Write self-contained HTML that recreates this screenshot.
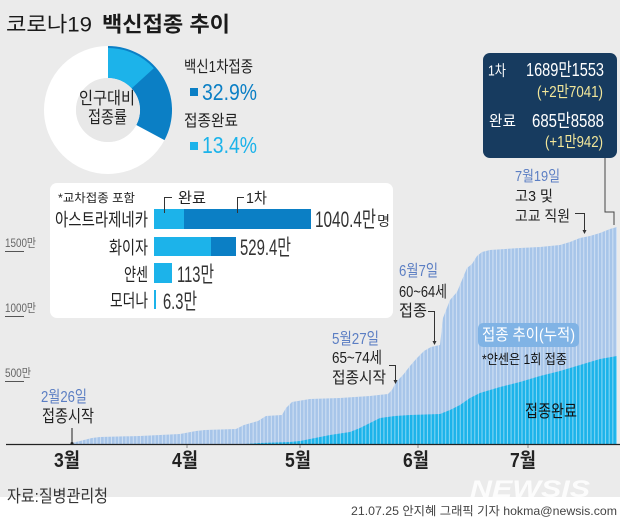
<!DOCTYPE html>
<html><head><meta charset="utf-8"><style>
html,body{margin:0;padding:0;background:#fff;}
svg{display:block;}
text{font-family:"Liberation Sans","Noto Sans CJK KR",sans-serif;}
</style></head><body>
<svg width="620" height="519" viewBox="0 0 620 519" xmlns="http://www.w3.org/2000/svg">
<defs>
<pattern id="gap" x="72" y="0" width="3.633" height="20" patternUnits="userSpaceOnUse">
<rect x="2.65" y="0" width="0.95" height="20" fill="#ffffff" fill-opacity="0.5"/>
</pattern>
<clipPath id="c1"><polygon points="72,444 72,443 76,442 84,440 92,438 100,437 140,436 180,434 196,431 205,430 236,429 244,425 258,421 266,416 282,415 286,408 292,402 310,399 340,398 370,396 388,394 392,390 396,382 403,375 410,366 417,358 424,351 431,347 440,345 443,318 450,300 457,292 462,280 467,268 472,264 477,256 482,252 490,250 520,248 540,247 560,245 570,242 580,238 590,236 600,233 610,229 617,227 617,444"/></clipPath>
</defs>
<rect x="0" y="0" width="620" height="497" fill="#ebebeb"/>
<rect x="0" y="497" width="620" height="22" fill="#ffffff"/>

<!-- Title -->
<text x="6" y="31.5" font-size="21" fill="#1a1a1a" textLength="86" lengthAdjust="spacingAndGlyphs">코로나19</text>
<text x="102" y="31.5" font-size="21" font-weight="bold" fill="#1a1a1a" textLength="128" lengthAdjust="spacingAndGlyphs">백신접종 추이</text>

<!-- Donut -->
<circle cx="108" cy="110" r="48" fill="none" stroke="#ffffff" stroke-width="32"/>
<path d="M108,46 A64,64 0 0,1 164.5,140.1 L136.3,125.0 A32,32 0 0,0 108,78 Z" fill="#0b7fc5"/>
<path d="M108,48 A62,62 0 0,1 153.8,68.2 L131.7,88.4 A32,32 0 0,0 108,78 Z" fill="#1cb3ea"/>
<circle cx="108" cy="110" r="32" fill="#e8e8e8"/>
<text x="79" y="104" font-size="17" fill="#222" textLength="56" lengthAdjust="spacingAndGlyphs">인구대비</text>
<text x="88" y="123" font-size="17" fill="#222" textLength="39" lengthAdjust="spacingAndGlyphs">접종률</text>

<text x="184" y="72" font-size="16" fill="#222" textLength="69" lengthAdjust="spacingAndGlyphs">백신1차접종</text>
<rect x="190" y="88" width="8" height="8" fill="#0b7fc5"/>
<text x="202" y="100" font-size="23" fill="#0b7fc5" textLength="55" lengthAdjust="spacingAndGlyphs">32.9%</text>
<text x="184" y="126" font-size="16" fill="#222" textLength="54" lengthAdjust="spacingAndGlyphs">접종완료</text>
<rect x="190" y="142" width="8" height="8" fill="#1cb3ea"/>
<text x="202" y="153" font-size="23" fill="#1cb3ea" textLength="55" lengthAdjust="spacingAndGlyphs">13.4%</text>

<!-- Navy box -->
<rect x="483" y="53" width="134" height="105" rx="7" fill="#173b5f"/>
<text x="488" y="75.5" font-size="15" fill="#fff" textLength="18" lengthAdjust="spacingAndGlyphs">1차</text>
<text x="526" y="76" font-size="18" fill="#fff" textLength="78" lengthAdjust="spacingAndGlyphs">1689만1553</text>
<text x="537" y="97" font-size="16" fill="#f3e79a" textLength="66" lengthAdjust="spacingAndGlyphs">(+2만7041)</text>
<text x="489" y="126" font-size="15" fill="#fff" textLength="27" lengthAdjust="spacingAndGlyphs">완료</text>
<text x="532" y="127" font-size="18" fill="#fff" textLength="72" lengthAdjust="spacingAndGlyphs">685만8588</text>
<text x="545" y="147" font-size="16" fill="#f3e79a" textLength="58" lengthAdjust="spacingAndGlyphs">(+1만942)</text>
<polyline points="605,158 605,212 614,212 614,225" fill="none" stroke="#444" stroke-width="1"/>

<!-- Y axis labels -->
<text x="5" y="247" font-size="12" fill="#666" textLength="31" lengthAdjust="spacingAndGlyphs">1500만</text>
<line x1="5" y1="251.5" x2="24" y2="251.5" stroke="#555" stroke-width="1"/>
<text x="5" y="312" font-size="12" fill="#666" textLength="31" lengthAdjust="spacingAndGlyphs">1000만</text>
<line x1="5" y1="316.5" x2="24" y2="316.5" stroke="#555" stroke-width="1"/>
<text x="5" y="377" font-size="12" fill="#666" textLength="26" lengthAdjust="spacingAndGlyphs">500만</text>
<line x1="5" y1="381.5" x2="24" y2="381.5" stroke="#555" stroke-width="1"/>

<!-- Chart bars -->
<polygon points="72,444 72,443 76,442 84,440 92,438 100,437 140,436 180,434 196,431 205,430 236,429 244,425 258,421 266,416 282,415 286,408 292,402 310,399 340,398 370,396 388,394 392,390 396,382 403,375 410,366 417,358 424,351 431,347 440,345 443,318 450,300 457,292 462,280 467,268 472,264 477,256 482,252 490,250 520,248 540,247 560,245 570,242 580,238 590,236 600,233 610,229 617,227 617,444" fill="#a7c5e9"/>
<polygon points="245,444 260,443 290,442 300,441 315,438 330,435 350,432 360,428 370,423 380,418 395,416 410,415 440,414 450,410 460,405 470,398 480,393 500,387 520,382 540,376 560,371 580,365 600,359 617,356 617,444" fill="#1cb3ea"/>
<rect x="72" y="220" width="546" height="225" fill="url(#gap)" clip-path="url(#c1)"/>

<!-- axis -->
<line x1="6" y1="444.5" x2="620" y2="444.5" stroke="#222" stroke-width="1.2"/>
<line x1="187" y1="445" x2="187" y2="448" stroke="#888" stroke-width="1"/>
<line x1="300" y1="445" x2="300" y2="448" stroke="#888" stroke-width="1"/>
<line x1="418" y1="445" x2="418" y2="448" stroke="#888" stroke-width="1"/>
<line x1="528" y1="445" x2="528" y2="448" stroke="#888" stroke-width="1"/>

<!-- month labels -->
<text x="54" y="467" font-size="20" font-weight="bold" fill="#222" textLength="26" lengthAdjust="spacingAndGlyphs">3월</text>
<text x="172" y="467" font-size="20" font-weight="bold" fill="#222" textLength="26" lengthAdjust="spacingAndGlyphs">4월</text>
<text x="285" y="467" font-size="20" font-weight="bold" fill="#222" textLength="26" lengthAdjust="spacingAndGlyphs">5월</text>
<text x="403" y="467" font-size="20" font-weight="bold" fill="#222" textLength="26" lengthAdjust="spacingAndGlyphs">6월</text>
<text x="510" y="467" font-size="20" font-weight="bold" fill="#222" textLength="26" lengthAdjust="spacingAndGlyphs">7월</text>

<!-- Panel -->
<rect x="50" y="183" width="343" height="135" rx="7" fill="#ffffff"/>
<text x="58" y="202" font-size="12" fill="#222" textLength="77" lengthAdjust="spacingAndGlyphs">*교차접종 포함</text>
<text x="178" y="203" font-size="15" fill="#222" textLength="28" lengthAdjust="spacingAndGlyphs">완료</text>
<text x="246" y="203" font-size="15" fill="#222" textLength="21" lengthAdjust="spacingAndGlyphs">1차</text>

<rect x="154" y="209" width="157" height="20" fill="#0b7fc5"/>
<rect x="154" y="209" width="30" height="20" fill="#1cb3ea"/>
<polyline points="172,197.5 164.5,197.5 164.5,213" fill="none" stroke="#333" stroke-width="1"/>
<polyline points="244,197.5 237.5,197.5 237.5,213" fill="none" stroke="#333" stroke-width="1"/>
<text x="55" y="226" font-size="18" fill="#222" textLength="93" lengthAdjust="spacingAndGlyphs">아스트라제네카</text>
<text x="315" y="227" font-size="22" fill="#333" textLength="61" lengthAdjust="spacingAndGlyphs">1040.4만</text>
<text x="377" y="226" font-size="14" fill="#333" textLength="13" lengthAdjust="spacingAndGlyphs">명</text>

<rect x="154" y="237" width="82" height="19" fill="#0b7fc5"/>
<rect x="154" y="237" width="57" height="19" fill="#1cb3ea"/>
<text x="109" y="254" font-size="18" fill="#222" textLength="39" lengthAdjust="spacingAndGlyphs">화이자</text>
<text x="240" y="255" font-size="22" fill="#333" textLength="51" lengthAdjust="spacingAndGlyphs">529.4만</text>

<rect x="154" y="263" width="18" height="20" fill="#1cb3ea"/>
<text x="124" y="281" font-size="18" fill="#222" textLength="24" lengthAdjust="spacingAndGlyphs">얀센</text>
<text x="177" y="282" font-size="22" fill="#333" textLength="37" lengthAdjust="spacingAndGlyphs">113만</text>

<rect x="154" y="290" width="2" height="19" fill="#1cb3ea"/>
<text x="110" y="307" font-size="18" fill="#222" textLength="38" lengthAdjust="spacingAndGlyphs">모더나</text>
<text x="163" y="309" font-size="22" fill="#333" textLength="34" lengthAdjust="spacingAndGlyphs">6.3만</text>

<!-- Annotations -->
<text x="41" y="402" font-size="16" fill="#5b7ec3" textLength="46" lengthAdjust="spacingAndGlyphs">2월26일</text>
<text x="42" y="422" font-size="17" fill="#222" textLength="52" lengthAdjust="spacingAndGlyphs">접종시작</text>
<line x1="72" y1="428" x2="72" y2="444" stroke="#222" stroke-width="1"/>
<circle cx="72" cy="443.5" r="1.5" fill="#222"/>

<text x="332" y="344" font-size="16" fill="#5b7ec3" textLength="47" lengthAdjust="spacingAndGlyphs">5월27일</text>
<text x="332" y="363" font-size="16" fill="#222" textLength="50" lengthAdjust="spacingAndGlyphs">65~74세</text>
<text x="332" y="383" font-size="16" fill="#222" textLength="54" lengthAdjust="spacingAndGlyphs">접종시작</text>
<polyline points="389,365.5 395.5,365.5 395.5,382" fill="none" stroke="#333" stroke-width="1"/>
<polygon points="393.5,380 397.5,380 395.5,384" fill="#333"/>

<text x="399" y="276" font-size="16" fill="#5b7ec3" textLength="39" lengthAdjust="spacingAndGlyphs">6월7일</text>
<text x="399" y="297" font-size="16" fill="#222" textLength="48" lengthAdjust="spacingAndGlyphs">60~64세</text>
<text x="399" y="316" font-size="16" fill="#222" textLength="28" lengthAdjust="spacingAndGlyphs">접종</text>
<polyline points="428,311.5 434.5,311.5 434.5,343" fill="none" stroke="#333" stroke-width="1"/>
<polygon points="432.5,341 436.5,341 434.5,345" fill="#333"/>

<text x="515" y="181" font-size="15" fill="#5b7ec3" textLength="45" lengthAdjust="spacingAndGlyphs">7월19일</text>
<text x="515" y="201" font-size="15" fill="#222" textLength="38" lengthAdjust="spacingAndGlyphs">고3 및</text>
<text x="515" y="221" font-size="15" fill="#222" textLength="55" lengthAdjust="spacingAndGlyphs">고교 직원</text>
<polyline points="575,213.5 584.5,213.5 584.5,232" fill="none" stroke="#333" stroke-width="1"/>
<polygon points="582.5,230 586.5,230 584.5,234" fill="#333"/>

<rect x="478" y="323" width="101" height="24" rx="5" fill="#80b3e5"/>
<text x="482" y="340" font-size="16" fill="#ffffff" textLength="93" lengthAdjust="spacingAndGlyphs">접종 추이(누적)</text>
<text x="482" y="364" font-size="13.5" fill="#111" textLength="85" lengthAdjust="spacingAndGlyphs">*얀센은 1회 접종</text>
<text x="525" y="417" font-size="17" fill="#111" textLength="52" lengthAdjust="spacingAndGlyphs">접종완료</text>

<!-- source -->
<text x="7" y="502" font-size="17" fill="#333" textLength="101" lengthAdjust="spacingAndGlyphs">자료:질병관리청</text>

<!-- watermark -->
<text x="470" y="497" font-size="24" font-weight="bold" font-style="italic" fill="#ffffff" fill-opacity="0.85" textLength="120" lengthAdjust="spacingAndGlyphs">NEWSIS</text>

<!-- footer -->
<text x="351" y="515" font-size="12" fill="#444" textLength="266" lengthAdjust="spacingAndGlyphs">21.07.25 안지혜 그래픽 기자 hokma@newsis.com</text>
</svg>
</body></html>
